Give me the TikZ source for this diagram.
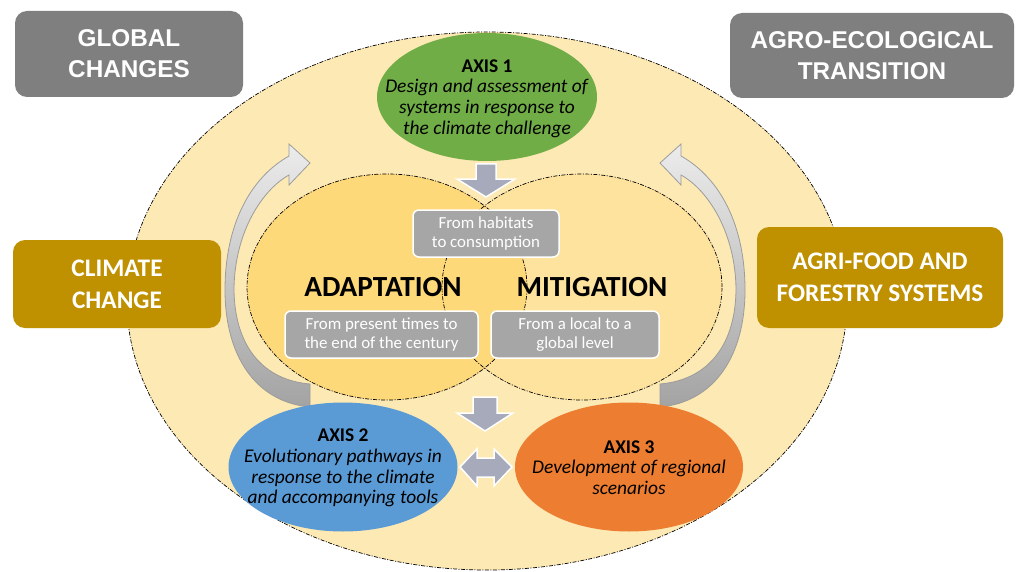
\documentclass[tikz,border=0pt]{standalone}
\usepackage{fontspec}
\setmainfont{Carlito}
\newfontfamily\arialfont{Liberation Sans}
\usetikzlibrary{shapes.geometric}
\definecolor{outerY}{HTML}{FDE9B4}
\definecolor{rightY}{HTML}{FEE39E}
\definecolor{leftY}{HTML}{FDD97A}
\definecolor{boxGray}{HTML}{7F7F7F}
\definecolor{boxGold}{HTML}{BF9000}
\definecolor{smallGray}{HTML}{A6A6A6}
\definecolor{axisGreen}{HTML}{70AD47}
\definecolor{axisBlue}{HTML}{5B9BD5}
\definecolor{axisOrange}{HTML}{ED7D31}
\definecolor{blockArrow}{HTML}{A6AABB}
\definecolor{curveLight}{HTML}{ECECEC}
\definecolor{curveDark}{HTML}{A3A3A3}
\definecolor{curveEdge}{HTML}{9C9C9C}
\tikzset{
  dashdot/.style={draw=black, line width=0.7pt, dash pattern=on 4pt off 1.5pt on 1pt off 1.5pt},
  shapeonly/.style={ellipse, inner sep=0pt, outer sep=0pt},
  graybox/.style={rectangle, rounded corners=12pt, fill=boxGray, text=white, align=center,
    font=\arialfont\bfseries\fontsize{24.3}{31}\selectfont},
  goldbox/.style={rectangle, rounded corners=12pt, fill=boxGold, text=white, align=center,
    font=\bfseries\fontsize{25.3}{32}\selectfont},
  smallbox/.style={rectangle, rounded corners=6pt, fill=smallGray, draw=white, line width=1.5pt,
    text=white, align=center, font=\fontsize{16.9}{19.8}\selectfont},
  axistext/.style={align=center, text=black, font=\fontsize{19.4}{20.6}\selectfont},
  venntext/.style={text=black, font=\bfseries\fontsize{29.2}{30}\selectfont},
  blockarrow/.style={fill=blockArrow, draw=white, line width=1.5pt, line join=miter},
  curvedarrow/.style={top color=curveLight, bottom color=curveDark, draw=curveEdge, line width=0.8pt},
}
\begin{document}
\begin{tikzpicture}[x=1pt,y=-1pt]
\useasboundingbox (0,0) rectangle (1016,572);
\fill[white] (0,0) rectangle (1016,572);

% outer ellipse
\node[shapeonly, fill=outerY, dashdot, minimum width=720pt, minimum height=538pt] (outer) at (487,301) {};

% Venn ellipses
\node[shapeonly, fill=rightY, minimum width=280pt, minimum height=226pt] (mitig) at (582,287) {};
\node[shapeonly, fill=leftY, minimum width=280pt, minimum height=226pt] (adapt) at (387,287) {};
\node[shapeonly, dashdot, minimum width=280pt, minimum height=226pt] (mitigline) at (582,287) {};
\node[shapeonly, dashdot, minimum width=280pt, minimum height=226pt] (adaptline) at (387,287) {};

% curved arrows
\path[curvedarrow] (310,407) .. controls (255,402) and (225,355) .. (225,290)
  .. controls (225,225) and (250,178) .. (289,156) -- (289,144) -- (310,163) -- (289,185) -- (289,175)
  .. controls (262,190) and (235,232) .. (234,288) .. controls (234,345) and (262,380) .. (310,384) -- cycle;
\path[curvedarrow] (660,407) .. controls (715,402) and (745,355) .. (745,290)
  .. controls (745,225) and (720,178) .. (681,156) -- (681,144) -- (660,163) -- (681,185) -- (681,175)
  .. controls (708,190) and (735,232) .. (736,288) .. controls (736,345) and (708,380) .. (660,384) -- cycle;

% corner boxes
\node[graybox, minimum width=228pt, minimum height=86pt] (global) at (129,54) {GLOBAL\\CHANGES};
\node[graybox, minimum width=284pt, minimum height=85pt] (agro) at (872,55.5) {AGRO-ECOLOGICAL\\TRANSITION};
\node[goldbox, minimum width=208pt, minimum height=88pt] (climate) at (117,284) {CLIMATE\\CHANGE};
\node[goldbox, minimum width=246pt, minimum height=101pt] (agri) at (880,277.5) {AGRI-FOOD AND\\FORESTRY SYSTEMS};

% axis ellipses
\node[shapeonly, fill=axisGreen, minimum width=220pt, minimum height=128pt] (axis1) at (487,97) {};
\node[shapeonly, fill=axisBlue, minimum width=229pt, minimum height=129pt] (axis2) at (343,467) {};
\node[shapeonly, fill=axisOrange, minimum width=228pt, minimum height=129pt] (axis3) at (629,467) {};
\node[axistext] (axis1t) at (487,98.5) {\textbf{AXIS 1}\\\textit{Design and assessment of}\\\textit{systems in response to}\\\textit{the climate challenge}};
\node[axistext] (axis2t) at (343,468) {\textbf{AXIS 2}\\\textit{Evolutionary pathways in}\\\textit{response to the climate}\\\textit{and accompanying tools}};
\node[axistext] (axis3t) at (629,467.5) {\textbf{AXIS 3}\\\textit{Development of regional}\\\textit{scenarios}};

% block arrows
\path[blockarrow] (476,164) -- (496,164) -- (496,179) -- (515,179) -- (486,197) -- (457,179) -- (476,179) -- cycle;
\path[blockarrow] (473,397) -- (497,397) -- (497,413) -- (513,413) -- (485,431) -- (457,413) -- (473,413) -- cycle;
\path[blockarrow] (460,467) -- (477,449) -- (477,458) -- (494,458) -- (494,449) -- (512,467)
  -- (494,486) -- (494,477) -- (477,477) -- (477,486) -- cycle;

% Venn labels
\node[venntext] (adaptt) at (383,287) {ADAPTATION};
\node[venntext] (mitigt) at (592,287) {MITIGATION};

% small gray boxes
\node[smallbox, minimum width=146pt, minimum height=47pt] (habitats) at (486,233.5) {From habitats\\to consumption};
\node[smallbox, minimum width=193pt, minimum height=47pt] (present) at (381.5,334.5) {From present times to\\the end of the century};
\node[smallbox, minimum width=168pt, minimum height=47pt] (local) at (575,334.5) {From a local to a\\global level};
\end{tikzpicture}
\end{document}
